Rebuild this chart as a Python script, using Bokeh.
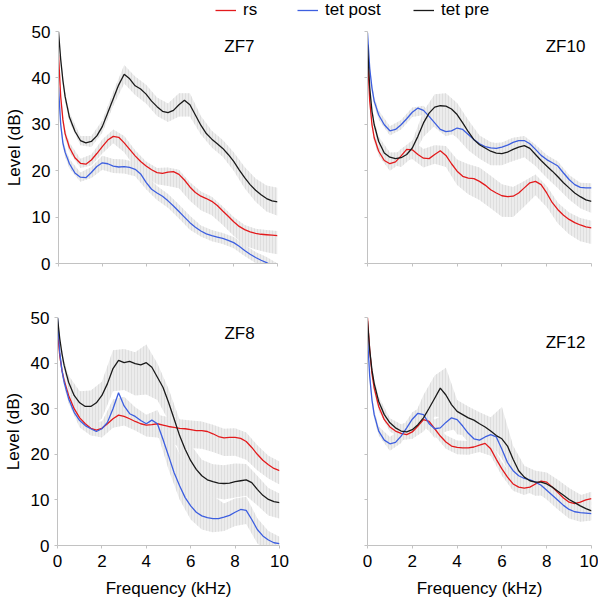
from bokeh.plotting import figure
from bokeh.models import Range1d, FixedTicker, Label, Legend, LegendItem
from bokeh.layouts import column, row
from bokeh.embed import file_html
from bokeh.resources import INLINE

FONT = "Liberation Sans"

# ---------------- data ----------------
freq = [0, 0.1, 0.2, 0.3, 0.5, 0.75, 1.0, 1.25, 1.5, 1.75, 2.0, 2.25, 2.5, 2.75,
        3.0, 3.25, 3.5, 3.75, 4.0, 4.25, 4.5, 4.75, 5.0, 5.25, 5.5, 5.75, 6.0,
        6.25, 6.5, 6.75, 7.0, 7.25, 7.5, 7.75, 8.0, 8.25, 8.5, 8.75, 9.0, 9.25,
        9.5, 9.75, 10.0]
band_freq = [0, 0.1, 0.2, 0.3, 0.5, 1.0, 1.5, 2.0, 2.5, 3.0, 3.5, 4.0, 4.5, 5.0,
             5.5, 6.0, 6.5, 7.0, 7.5, 8.0, 8.5, 9.0, 9.5, 10.0]

series_names = ["rs", "tet post", "tet pre"]
series_colors = ["#e31a1c", "#3d5fe0", "#1a1a1a"]
panel_names = ["ZF7", "ZF10", "ZF8", "ZF12"]
x_ticks = [0, 2, 4, 6, 8, 10]
y_ticks = [0, 10, 20, 30, 40, 50]

# ZF7
zf7_rs = [45, 36, 31, 28, 25, 22.8, 21.6, 21.4, 22.3, 23.7, 25.2, 26.6, 27.4, 27.2, 26.0, 24.6, 23.2, 22.0, 21.0, 20.2, 19.6, 19.4, 19.7, 19.8, 19.2, 18.0, 16.5, 15.3, 14.5, 14.0, 13.4, 12.5, 11.3, 10.2, 9.0, 8.0, 7.3, 6.8, 6.5, 6.3, 6.2, 6.1, 6.0]
zf7_post = [38, 30, 26, 24, 21.5, 19.5, 18.6, 18.5, 19.6, 20.9, 21.7, 21.5, 21.0, 20.8, 20.9, 20.7, 20.3, 19.3, 17.5, 16.0, 15.2, 14.5, 13.5, 12.4, 11.2, 10.0, 8.8, 7.8, 7.0, 6.4, 6.0, 5.7, 5.4, 5.0, 4.5, 3.7, 2.8, 2.0, 1.3, 0.7, 0.2, -0.5, -1.2]
zf7_pre = [50, 44, 39.5, 36, 31.5, 28.5, 26.5, 26, 26.3, 27.5, 29.5, 32.5, 35.5, 38.5, 40.8, 39.8, 38.3, 37.6, 36.5, 35, 33.8, 32.8, 32.5, 33, 34.2, 35.2, 34.2, 32, 29.8, 28, 26.8, 25.8, 24.8, 23.5, 22, 20.2, 18.5, 17, 15.8, 14.8, 14, 13.5, 13.3]
zf7_rs_up = [0.5, 1, 1, 1, 1, 1, 1.2, 1.5, 1.5, 1.5, 1.2, 1, 1, 1, 1, 1, 1, 1, 1, 1, 1, 1, 1, 1]
zf7_rs_dn = [0.5, 1, 1, 1, 1, 1, 1.2, 1.5, 1.5, 2, 2.5, 2.5, 2.5, 3, 3, 3, 3, 3, 3, 3, 3.5, 3.5, 3.8, 4]
zf7_post_up = [0.5, 1, 1, 1, 1, 1, 1.2, 1.5, 1.5, 1.5, 1.5, 1.5, 1.5, 1.5, 1.5, 1.5, 1.2, 1.2, 1.2, 1.2, 1.2, 1.2, 1.2, 1.2]
zf7_post_dn = [0.5, 1, 1, 1, 1, 1, 1.2, 1.5, 1.5, 1.5, 1.5, 1.5, 1.5, 1.5, 1.5, 1.5, 1.2, 1.2, 1.2, 1.2, 1.2, 1.2, 1.2, 1.2]
zf7_pre_up = [0.5, 1, 1, 1, 1, 1, 1.2, 1.3, 1.5, 2, 2, 2, 2, 2, 2.5, 2.5, 2, 1.8, 1.8, 2, 2.3, 2.5, 2.8, 3]
zf7_pre_dn = [0.5, 1, 1, 1, 1, 1, 1.2, 1.3, 1.5, 2, 2, 2, 2, 2, 2.5, 2.5, 2, 1.8, 1.8, 2, 2.3, 2.5, 2.8, 3]

# ZF10
zf10_rs = [44.7, 35, 29.9, 27.1, 24.2, 22.2, 21.5, 21.9, 23.2, 24.6, 24.5, 23.5, 22.7, 22.6, 23.5, 24.3, 23.3, 21.5, 19.9, 18.8, 18.4, 18.3, 17.7, 16.9, 15.9, 15.2, 14.6, 14.4, 14.5, 15.2, 16.3, 17.4, 17.7, 17.0, 15.2, 13.1, 11.6, 10.4, 9.5, 8.8, 8.3, 7.9, 7.7]
zf10_post = [49.7, 42, 37.8, 35, 32, 29.9, 28.6, 28.9, 29.9, 31.2, 32.6, 33.5, 33.0, 31.7, 30.3, 28.9, 28.4, 28.6, 29.2, 28.9, 27.8, 26.7, 25.8, 25.2, 24.9, 24.8, 25.1, 25.5, 26.1, 26.5, 26.5, 25.8, 24.6, 23.3, 22.4, 21.7, 21.0, 19.5, 18.1, 17.0, 16.4, 16.3, 16.3]
zf10_pre = [47.2, 37.8, 32.8, 29.9, 26.3, 23.8, 22.9, 22.6, 22.8, 23.5, 24.9, 27.4, 30.3, 32.4, 33.7, 34.0, 33.9, 33.3, 32.1, 30.3, 28.4, 26.7, 25.6, 24.9, 24.2, 23.8, 23.7, 24.0, 24.6, 25.1, 25.4, 24.8, 23.5, 22.2, 21.0, 19.9, 18.7, 17.4, 16.3, 15.2, 14.4, 13.7, 13.4]
zf10_rs_up = [0.5, 1, 1, 1, 1, 1, 1.5, 2, 2, 2, 2, 2.5, 3, 3, 3, 2.5, 2, 1.5, 1.5, 1.5, 1.5, 1.5, 1.5, 1.5]
zf10_rs_dn = [0.5, 1, 1, 1, 1, 1.5, 1.5, 2, 2, 2, 2.5, 3, 3.5, 4, 4, 4.5, 4.5, 4, 3, 3, 3, 3.2, 3.5, 3.5]
zf10_post_up = [0.5, 1, 1, 1, 1, 1, 1, 1, 1, 1, 1, 1, 1, 1, 1, 1, 1, 1, 1, 1, 1, 1, 1, 1]
zf10_post_dn = [0.5, 1, 1, 1, 1, 1, 1, 1, 1, 1, 1, 1, 1, 1, 1, 1, 1, 1, 1, 1, 1, 1, 1, 1]
zf10_pre_up = [0.5, 1, 1, 1, 1, 1, 1.2, 1.5, 2.5, 2.8, 2.8, 2.5, 2.5, 2, 2, 2, 1.8, 1.8, 2, 2, 2, 2, 2, 2]
zf10_pre_dn = [0.5, 1, 1, 1, 1, 1.5, 2, 2, 3, 4, 5, 5, 4, 3, 3, 2.5, 2.5, 2.5, 2.5, 2.5, 2.5, 2.5, 2.5, 2.5]

# ZF8
zf8_rs = [47, 41.7, 38.4, 36.2, 32.9, 30.0, 28.0, 26.7, 25.7, 25.3, 25.7, 26.7, 27.8, 28.6, 28.3, 27.8, 27.2, 26.7, 26.4, 26.5, 26.7, 26.4, 26.1, 25.9, 25.7, 25.6, 25.4, 25.2, 25.2, 25.0, 24.5, 23.9, 23.6, 23.7, 23.7, 23.5, 22.8, 21.5, 20.0, 18.7, 17.7, 16.9, 16.4]
zf8_post = [50, 42.4, 38.4, 35.8, 32.2, 29.2, 27.4, 26.3, 25.6, 25.0, 25.6, 27.0, 30.0, 33.5, 30.6, 28.9, 28.3, 27.4, 26.7, 27.5, 26.7, 23.3, 19.7, 16.0, 13.1, 10.5, 8.7, 7.3, 6.5, 6.1, 5.9, 5.9, 6.2, 6.6, 7.3, 7.9, 7.7, 5.7, 3.5, 2.1, 1.2, 0.6, 0.4]
zf8_pre = [50, 45.4, 42.1, 39.5, 35.8, 32.9, 31.3, 30.5, 30.5, 31.3, 32.9, 35.5, 38.8, 40.6, 40.1, 40.4, 39.9, 39.6, 40.1, 39.1, 36.9, 34.7, 31.4, 27.8, 24.1, 21.1, 18.6, 16.7, 15.3, 14.4, 14.0, 13.7, 13.6, 13.7, 14.0, 14.2, 14.4, 13.8, 12.3, 11.0, 10.1, 9.6, 9.4]
zf8_rs_up = [0.5, 1, 1, 1, 1, 1.5, 1.5, 1.5, 2, 2, 2, 2, 2, 2, 2, 2, 2, 2, 2, 2, 2, 2, 2, 2]
zf8_rs_dn = [0.5, 1, 1, 1, 1, 1.5, 1.5, 2, 2, 2, 2, 2.5, 3, 3.5, 4, 4, 4, 4, 4, 4, 4, 3.5, 3, 3]
zf8_post_up = [0.5, 1, 1, 1, 1, 1.5, 1.5, 1.5, 2, 2, 2, 2, 3, 5, 7, 7, 6, 5, 3, 3, 3, 2.5, 2, 1.5]
zf8_post_dn = [0.5, 1, 1, 1, 1, 1.5, 1.5, 1.5, 2, 2, 2, 2, 2, 3, 3, 3, 3, 3, 3, 3, 3, 3, 3, 3]
zf8_pre_up = [0.5, 1, 1, 1, 1.5, 2.5, 3.5, 3, 4, 3, 2.5, 4, 3, 3, 3.5, 3.5, 3.5, 3.8, 4, 4, 3.5, 3, 2.5, 2]
zf8_pre_dn = [0.5, 1, 1, 1, 1.5, 4, 5, 5, 5, 6, 7, 7, 5, 4, 4, 4, 3.5, 3.5, 3.5, 3.5, 3.5, 3.5, 3.5, 3.5]

# ZF12
zf12_rs = [50, 42.8, 37.7, 34.5, 30.5, 27.6, 26.0, 25.1, 24.6, 24.3, 24.9, 26.2, 27.6, 27.2, 25.6, 24.0, 22.7, 21.8, 21.5, 21.4, 21.4, 21.6, 22.0, 22.4, 21.2, 18.9, 16.8, 15.0, 13.5, 12.8, 12.6, 12.8, 13.5, 14.1, 13.9, 12.8, 11.6, 10.4, 9.5, 9.2, 9.5, 10.0, 10.3]
zf12_post = [45.7, 37.0, 31.9, 28.7, 25.1, 23.1, 22.3, 22.6, 24.0, 25.8, 27.7, 29.0, 28.7, 26.7, 25.6, 25.8, 27.0, 28.0, 27.6, 26.2, 24.6, 23.4, 23.1, 23.8, 24.3, 23.8, 21.1, 18.2, 16.4, 15.3, 14.7, 14.4, 13.9, 13.2, 12.1, 11.0, 9.9, 8.8, 7.9, 7.4, 7.2, 7.1, 7.0]
zf12_pre = [49.3, 42.8, 38.4, 35.5, 31.6, 28.7, 26.9, 25.8, 25.1, 24.9, 25.4, 26.5, 28.0, 30.1, 32.3, 34.5, 33.0, 30.9, 29.4, 28.7, 28.0, 27.5, 26.7, 26.0, 25.1, 24.1, 23.4, 21.8, 18.9, 16.4, 15.0, 14.2, 13.9, 13.9, 13.5, 12.8, 11.9, 11.0, 10.1, 9.4, 8.7, 8.1, 7.6]
zf12_rs_up = [0.5, 1, 1, 1, 1, 1, 1, 1.5, 1.5, 1.5, 1.5, 1.5, 1.5, 1.5, 1.5, 1.5, 1.5, 1.5, 1.5, 1.5, 1.5, 1.5, 1.5, 1.5]
zf12_rs_dn = [0.5, 1, 1, 1, 1, 1, 1, 1.5, 1.5, 1.5, 1.5, 1.5, 1.5, 1.5, 1.5, 1.5, 1.5, 1.5, 1.5, 1.5, 1.5, 1.5, 1.5, 1.5]
zf12_post_up = [0.5, 1, 1, 1, 1, 1.5, 1.5, 1.5, 2, 2, 2, 2, 2, 2, 2, 2, 2, 2, 2, 2, 2, 2, 2, 1.5]
zf12_post_dn = [0.5, 1, 1, 1, 1, 1.5, 1.5, 1.5, 2, 2, 2, 2, 2, 2, 2, 2, 2, 2, 2, 2, 2, 2, 2, 1.5]
zf12_pre_up = [0.5, 1, 1, 1, 1, 1, 1.5, 2, 5, 5, 6, 2.5, 2.5, 2.5, 3, 7, 3, 2.5, 2.5, 2.5, 2.5, 2.5, 2.5, 2]
zf12_pre_dn = [0.5, 1, 1, 1, 1, 1.5, 2, 2, 3, 4, 5, 5, 4, 3, 3, 3, 3, 3, 3, 2.5, 2.5, 2.5, 2.5, 2]

panel_series = {
    "ZF7": [zf7_rs, zf7_post, zf7_pre],
    "ZF10": [zf10_rs, zf10_post, zf10_pre],
    "ZF8": [zf8_rs, zf8_post, zf8_pre],
    "ZF12": [zf12_rs, zf12_post, zf12_pre],
}
panel_bands = {
    "ZF7": [(zf7_rs_up, zf7_rs_dn), (zf7_post_up, zf7_post_dn), (zf7_pre_up, zf7_pre_dn)],
    "ZF10": [(zf10_rs_up, zf10_rs_dn), (zf10_post_up, zf10_post_dn), (zf10_pre_up, zf10_pre_dn)],
    "ZF8": [(zf8_rs_up, zf8_rs_dn), (zf8_post_up, zf8_post_dn), (zf8_pre_up, zf8_pre_dn)],
    "ZF12": [(zf12_rs_up, zf12_rs_dn), (zf12_post_up, zf12_post_dn), (zf12_pre_up, zf12_pre_dn)],
}
band_idx = [freq.index(v) for v in band_freq]

AX_COLOR = "#c2c2c2"


def style_axis(ax, show_labels, label_text, label_standoff, title_standoff):
    ax.axis_line_color = AX_COLOR
    ax.major_tick_line_color = AX_COLOR
    ax.minor_tick_line_color = None
    ax.major_tick_in = 0
    ax.major_tick_out = 3
    ax.major_label_text_font = FONT
    ax.major_label_text_font_size = "17px"
    ax.major_label_text_color = "#000000"
    ax.major_label_standoff = label_standoff
    if not show_labels:
        ax.major_label_overrides = {t: "" for t in ax.ticker.ticks}
    if label_text:
        ax.axis_label = label_text
        ax.axis_label_text_font = FONT
        ax.axis_label_text_font_size = "17px"
        ax.axis_label_text_font_style = "normal"
        ax.axis_label_text_color = "#000000"
        ax.axis_label_standoff = title_standoff


def make_panel(name, width, height, borders, left_col, bottom_row, label_pos):
    bl, br, bt, bb = borders
    p = figure(width=width, height=height, x_range=Range1d(0, 10), y_range=Range1d(0, 50),
               output_backend="svg", toolbar_location=None,
               min_border_left=bl, min_border_right=br, min_border_top=bt, min_border_bottom=bb)
    p.outline_line_color = None
    p.grid.visible = False
    p.xaxis.ticker = FixedTicker(ticks=x_ticks)
    p.yaxis.ticker = FixedTicker(ticks=y_ticks)
    style_axis(p.xaxis[0], bottom_row, "Frequency (kHz)" if bottom_row else None, 6, 9)
    style_axis(p.yaxis[0], left_col, "Level (dB)" if left_col else None, 5, 5)

    vals = panel_series[name]
    bands = panel_bands[name]
    for v, (up, dn) in zip(vals, bands):
        mid = [v[i] for i in band_idx]
        hi = [m + u for m, u in zip(mid, up)]
        lo = [m - d for m, d in zip(mid, dn)]
        p.varea(x=band_freq, y1=lo, y2=hi, fill_color="#ececec",
                hatch_pattern="|", hatch_color="#d9d9d9", hatch_scale=3, hatch_weight=0.7)
    for v, c in zip(vals, series_colors):
        p.line(x=freq, y=v, line_color=c, line_width=1.3)
    p.add_layout(Label(x=label_pos[0], y=label_pos[1], text=name, text_font=FONT,
                       text_font_size="17px", text_align="center", text_baseline="middle",
                       text_color="#000000"))
    return p


tl = make_panel("ZF7", 305, 270, (58, 28, 11, 27), True, False, (8.26, 46.8))
tr = make_panel("ZF10", 293, 270, (62, 7, 11, 27), False, False, (8.84, 46.8))
bl = make_panel("ZF8", 305, 310, (57, 26, 27, 54), True, True, (8.2, 46.5))
br = make_panel("ZF12", 293, 310, (62, 7, 27, 54), False, True, (8.84, 44.5))

# legend strip across the top
lf = figure(width=598, height=20, x_range=Range1d(0, 1), y_range=Range1d(0, 1),
            output_backend="svg", toolbar_location=None, min_border=0)
lf.axis.visible = False
lf.grid.visible = False
lf.outline_line_color = None
legend_x = [215, 297, 413]
for nm, c, lx in zip(series_names, series_colors, legend_x):
    r = lf.line(x=[-5, -4], y=[-5, -5], line_color=c, line_width=1.3)
    lg = Legend(items=[LegendItem(label=nm, renderers=[r])], location=(lx, 0),
                orientation="horizontal", padding=0, margin=0, border_line_color=None,
                background_fill_alpha=0, label_text_font=FONT, label_text_font_size="17px",
                label_text_color="#000000", glyph_width=21, glyph_height=20, label_height=20,
                label_standoff=7, spacing=0)
    lf.add_layout(lg)

layout = column(lf, row(tl, tr), row(bl, br))
open("out.html", "w").write(file_html(layout, INLINE))
